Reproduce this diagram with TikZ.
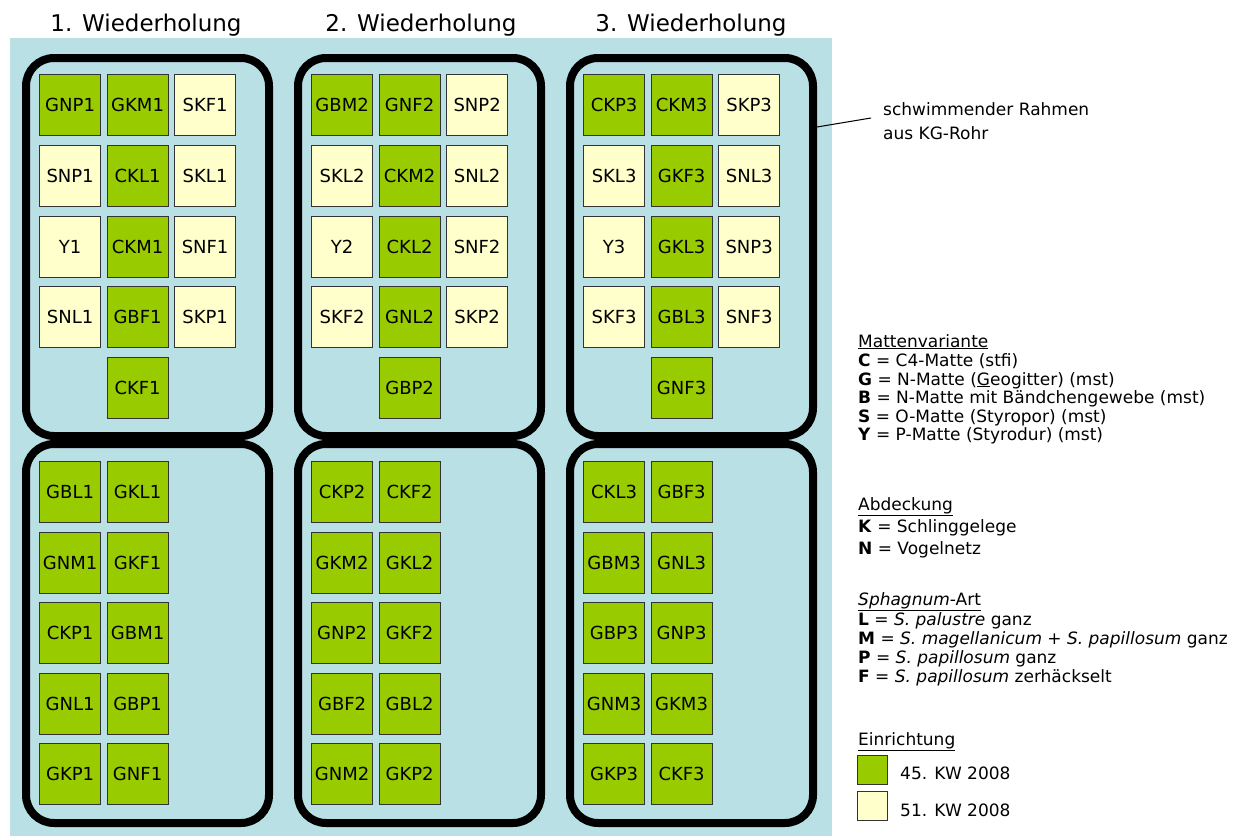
\documentclass[tikz,border=0pt]{standalone}
\usepackage{fontspec}
\setmainfont{DejaVu Sans}
\definecolor{bg}{HTML}{B9E0E4}
\definecolor{grn}{HTML}{99CC00}
\definecolor{ylw}{HTML}{FFFFCC}
\definecolor{sqline}{HTML}{333333}
\begin{document}
\begin{tikzpicture}[x=1pt,y=-1pt,
 sq/.style={draw=sqline, line width=1.2pt, minimum width=61pt, minimum height=61pt, inner sep=0pt, anchor=north west, font=\fontsize{18}{20}\selectfont},
 legsq/.style={draw=sqline, line width=1.2pt, minimum width=30pt, minimum height=29pt, inner sep=0pt, anchor=north west},
 frame/.style={draw=black, line width=8pt, rounded corners=28pt, inner sep=0pt},
 title/.style={font=\fontsize{23}{26}\selectfont, anchor=base, inner sep=0pt},
 leg/.style={font=\fontsize{17}{19}\selectfont, anchor=base west, inner sep=0pt}]
\useasboundingbox (0,0) rectangle (1243,836);
\fill[bg] (10,38) rectangle (832,836);
% titles
\node[title] (t1) at (146,31) {1. Wiederholung};
\node[title] (t2) at (421,31) {2. Wiederholung};
\node[title] (t3) at (691,31) {3. Wiederholung};
% frames
\foreach \k/\cx in {1/147.5,2/419.5,3/691.5}{
  \node[frame, minimum width=243pt, minimum height=378pt] (F\k u) at (\cx,247) {};
  \node[frame, minimum width=243pt, minimum height=379pt] (F\k l) at (\cx,633.5) {};
}
% frame 1
\foreach \lab/\c/\i/\j in {GNP1/grn/0/0, GKM1/grn/1/0, SKF1/ylw/2/0,
  SNP1/ylw/0/1, CKL1/grn/1/1, SKL1/ylw/2/1,
  Y1/ylw/0/2, CKM1/grn/1/2, SNF1/ylw/2/2,
  SNL1/ylw/0/3, GBF1/grn/1/3, SKP1/ylw/2/3,
  CKF1/grn/1/4}
  \node[sq, fill=\c] (\lab) at ({39+67.5*\i},{74+70.75*\j}) {\lab};
\foreach \lab/\c/\i/\j in {GBL1/grn/0/0, GKL1/grn/1/0,
  GNM1/grn/0/1, GKF1/grn/1/1, CKP1/grn/0/2, GBM1/grn/1/2,
  GNL1/grn/0/3, GBP1/grn/1/3, GKP1/grn/0/4, GNF1/grn/1/4}
  \node[sq, fill=\c] (\lab) at ({39+67.5*\i},{461+70.5*\j}) {\lab};
% frame 2
\foreach \lab/\c/\i/\j in {GBM2/grn/0/0, GNF2/grn/1/0, SNP2/ylw/2/0,
  SKL2/ylw/0/1, CKM2/grn/1/1, SNL2/ylw/2/1,
  Y2/ylw/0/2, CKL2/grn/1/2, SNF2/ylw/2/2,
  SKF2/ylw/0/3, GNL2/grn/1/3, SKP2/ylw/2/3,
  GBP2/grn/1/4}
  \node[sq, fill=\c] (\lab) at ({311+67.5*\i},{74+70.75*\j}) {\lab};
\foreach \lab/\c/\i/\j in {CKP2/grn/0/0, CKF2/grn/1/0,
  GKM2/grn/0/1, GKL2/grn/1/1, GNP2/grn/0/2, GKF2/grn/1/2,
  GBF2/grn/0/3, GBL2/grn/1/3, GNM2/grn/0/4, GKP2/grn/1/4}
  \node[sq, fill=\c] (\lab) at ({311+67.5*\i},{461+70.5*\j}) {\lab};
% frame 3
\foreach \lab/\c/\i/\j in {CKP3/grn/0/0, CKM3/grn/1/0, SKP3/ylw/2/0,
  SKL3/ylw/0/1, GKF3/grn/1/1, SNL3/ylw/2/1,
  Y3/ylw/0/2, GKL3/grn/1/2, SNP3/ylw/2/2,
  SKF3/ylw/0/3, GBL3/grn/1/3, SNF3/ylw/2/3,
  GNF3/grn/1/4}
  \node[sq, fill=\c] (\lab) at ({583+67.5*\i},{74+70.75*\j}) {\lab};
\foreach \lab/\c/\i/\j in {CKL3/grn/0/0, GBF3/grn/1/0,
  GBM3/grn/0/1, GNL3/grn/1/1, GBP3/grn/0/2, GNP3/grn/1/2,
  GNM3/grn/0/3, GKM3/grn/1/3, GKP3/grn/0/4, CKF3/grn/1/4}
  \node[sq, fill=\c] (\lab) at ({583+67.5*\i},{461+70.5*\j}) {\lab};
% frame label
\coordinate (rs) at (817,127);
\coordinate (re) at (871,118);
\draw[line width=1pt] (rs) -- (re);
\node[leg] (rahmenA) at (883,115) {schwimmender Rahmen};
\node[leg] (rahmenB) at (883,139) {aus KG-Rohr};
% legend
\node[leg] (lm) at (858,347) {\underline{Mattenvariante}};
\node[leg] (lc) at (858,366) {\textbf{C} = C4-Matte (stfi)};
\node[leg] (lg) at (858,385) {\textbf{G} = N-Matte (\underline{G}eogitter) (mst)};
\node[leg] (lb) at (858,403) {\textbf{B} = N-Matte mit Bändchengewebe (mst)};
\node[leg] (ls) at (858,422) {\textbf{S} = O-Matte (Styropor) (mst)};
\node[leg] (ly) at (858,440) {\textbf{Y} = P-Matte (Styrodur) (mst)};
\node[leg] (la) at (858,510) {\underline{Abdeckung}};
\node[leg] (lk) at (858,532) {\textbf{K} = Schlinggelege};
\node[leg] (ln) at (858,554) {\textbf{N} = Vogelnetz};
\node[leg] (lsp) at (858,605) {\underline{\textit{Sphagnum}-Art}};
\node[leg] (ll) at (858,625) {\textbf{L} = \textit{S. palustre} ganz};
\node[leg] (lmm) at (858,644) {\textbf{M} = \textit{S. magellanicum} + \textit{S. papillosum} ganz};
\node[leg] (lp) at (858,663) {\textbf{P} = \textit{S. papillosum} ganz};
\node[leg] (lf) at (858,682) {\textbf{F} = \textit{S. papillosum} zerhäckselt};
\node[leg] (le) at (858,745) {\underline{Einrichtung}};
\node[legsq, fill=grn] (q45) at (857,755) {};
\node[legsq, fill=ylw] (q51) at (857,791) {};
\node[leg] (t45) at (900,779) {45. KW 2008};
\node[leg] (t51) at (900,816) {51. KW 2008};
\end{tikzpicture}
\end{document}
